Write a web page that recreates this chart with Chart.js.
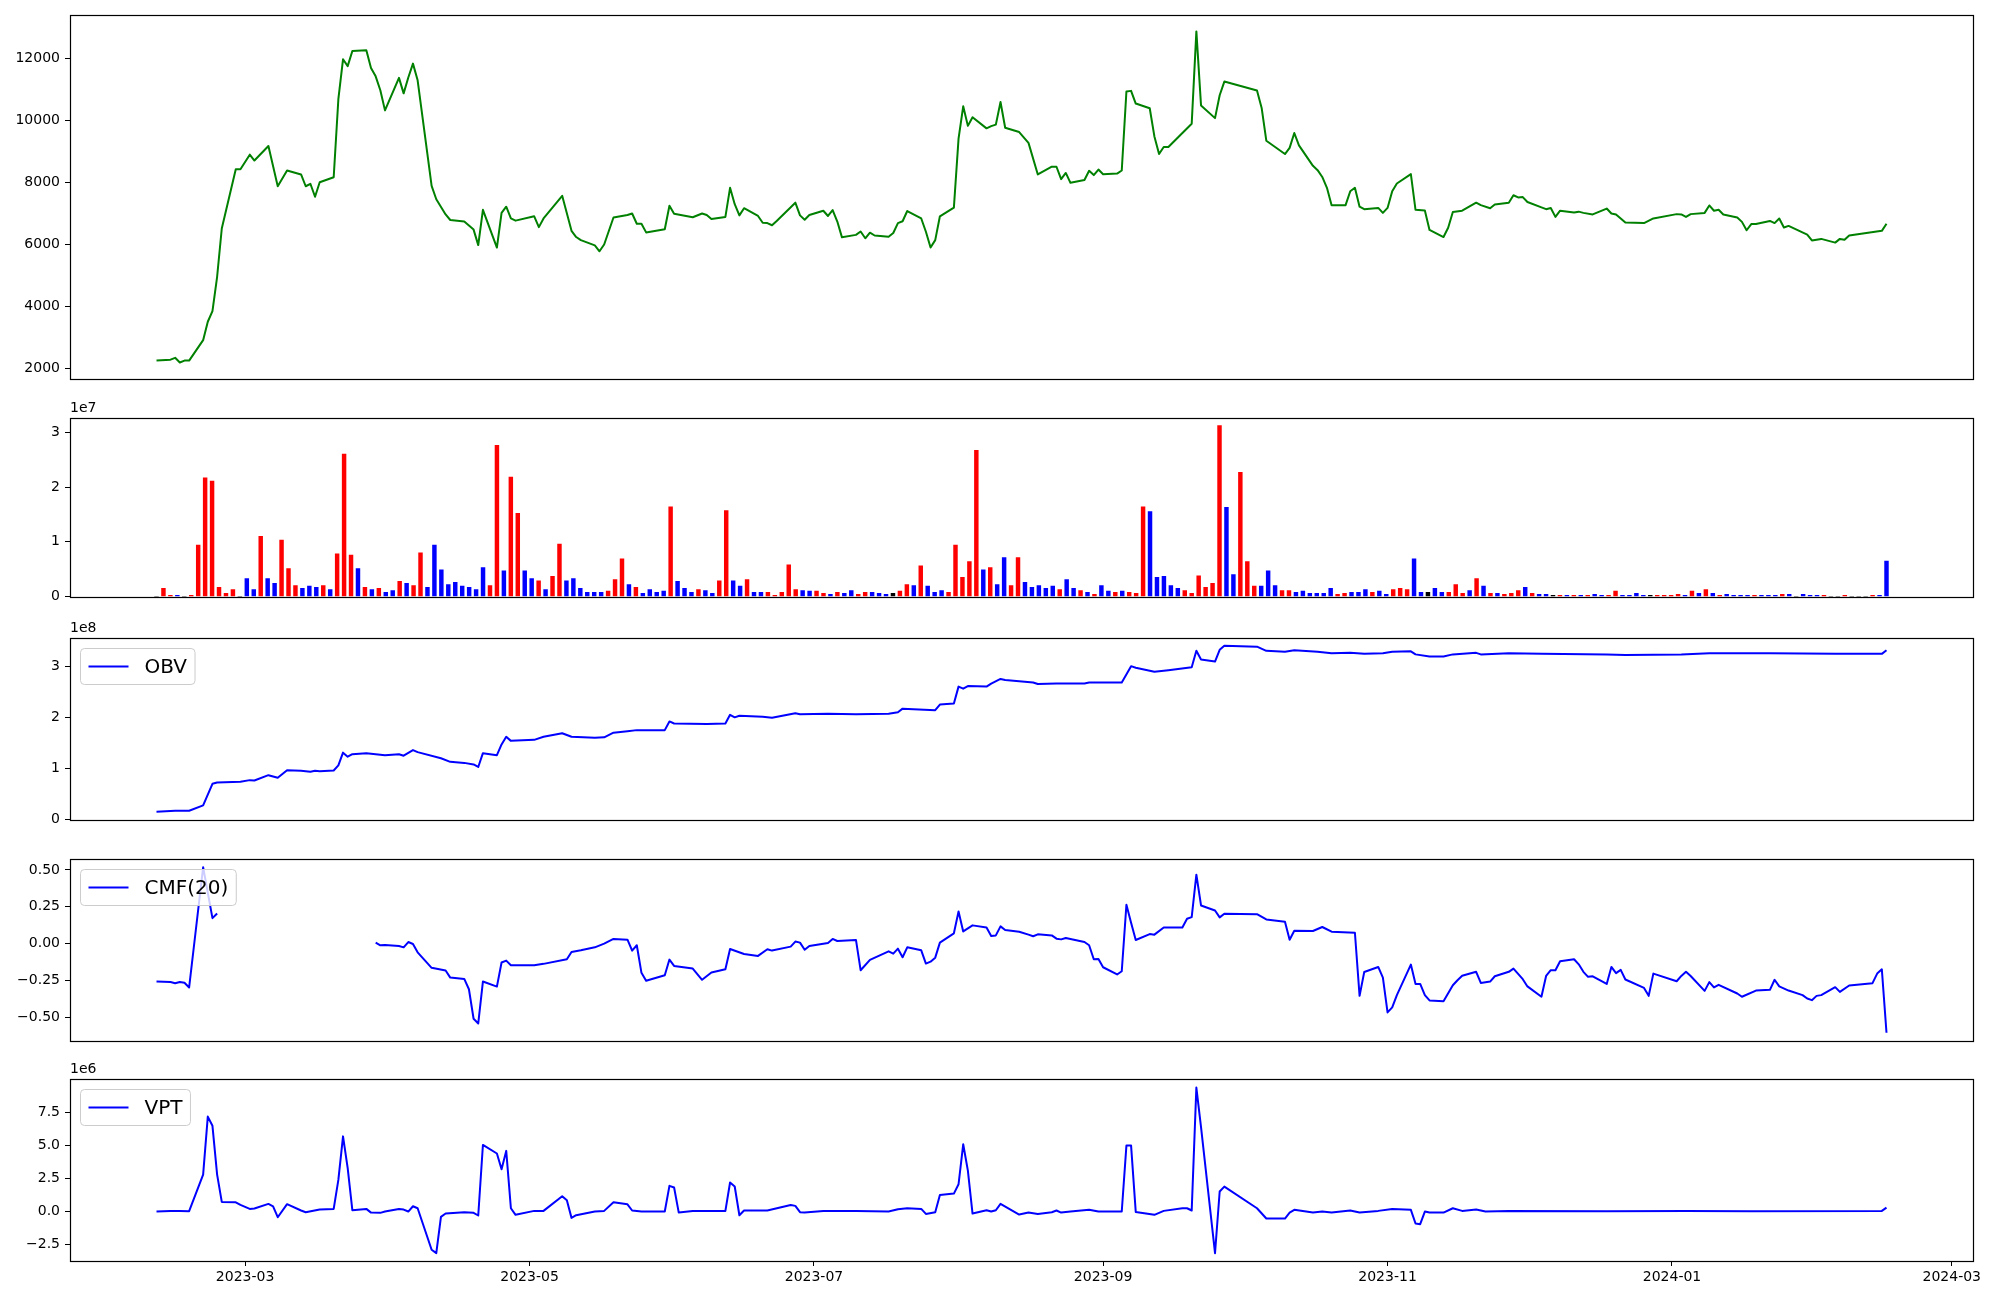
<!DOCTYPE html>
<html>
<head>
<meta charset="utf-8">
<script src="https://cdn.jsdelivr.net/npm/chart.js@4.4.0/dist/chart.umd.min.js"></script>
<style>
  html, body { margin: 0; padding: 0; background: #fff; }
  #fig { position: relative; width: 2000px; height: 1300px; background: #fff; }
  #fig canvas { position: absolute; left: 0; }
</style>
</head>
<body>
<div id="fig">
  <canvas id="pricePanel"  width="2000" height="400" style="top:0px"></canvas>
  <canvas id="volumePanel" width="2000" height="210" style="top:400px"></canvas>
  <canvas id="obvPanel"    width="2000" height="220" style="top:620px"></canvas>
  <canvas id="cmfPanel"    width="2000" height="215" style="top:840px"></canvas>
  <canvas id="vptPanel"    width="2000" height="240" style="top:1060px"></canvas>
</div>
<script>
'use strict';

/* ── trading days (month -> day numbers) ── */
const tradeDays = {
  '2023-02': [10,13,14,15,16,17,20,21,22,23,24,27,28],
  '2023-03': [2,3,6,7,8,9,10,13,14,15,16,17,20,21,22,23,24,27,28,29,30,31],
  '2023-04': [3,4,5,6,7,10,11,12,13,14,17,18,19,20,21,24,25,26,27,28],
  '2023-05': [2,3,4,8,9,10,11,12,15,16,17,18,19,22,23,24,25,26,30,31],
  '2023-06': [1,2,5,7,8,9,12,13,14,15,16,19,20,21,22,23,26,27,28,29,30],
  '2023-07': [3,4,5,6,7,10,11,12,13,14,17,18,19,20,21,24,25,26,27,28,31],
  '2023-08': [1,2,3,4,7,8,9,10,11,14,16,17,18,21,22,23,24,25,28,29,30,31],
  '2023-09': [1,4,5,6,7,8,11,12,13,14,15,18,19,20,21,22,25,26,27],
  '2023-10': [4,5,6,10,11,12,13,16,17,18,19,20,23,24,25,26,27,30,31],
  '2023-11': [1,2,3,6,7,8,9,10,13,14,15,16,17,20,21,22,23,24,27,28,29,30],
  '2023-12': [1,4,5,6,7,8,11,12,13,14,15,18,19,20,21,22,26,27,28],
  '2024-01': [2,3,4,5,8,9,10,11,12,15,16,17,18,19,22,23,24,25,26,29,30,31],
  '2024-02': [1,2,5,6,7,8,13,14,15,16],
};

const monthTicks = ['2023-03','2023-05','2023-07','2023-09','2023-11','2024-01','2024-03'];

/* ── close price (trading-day index -> value) ── */
const priceIdx = [
  0,1,2,3,4,5,6,7,8,9,
  10,11,12,13,14,15,17,19,20,21,
  22,23,24,25,26,27,28,29,30,31,
  32,33,34,35,36,37,38,39,40,41,
  43,44,45,47,48,49,50,51,52,53,
  54,55,56,57,58,60,61,62,63,64,
  65,67,68,69,70,71,72,73,74,75,
  77,78,79,80,81,82,83,84,85,86,
  87,88,89,90,92,93,94,95,96,97,
  98,99,100,101,102,103,104,105,106,107,
  108,109,110,111,112,113,114,115,116,117,
  118,119,120,121,122,123,124,125,126,127,
  129,130,131,132,133,134,135,136,137,138,
  139,140,141,142,143,144,145,146,147,148,
  149,152,153,154,155,156,157,158,159,160,
  161,162,163,164,165,166,167,168,169,170,
  171,172,173,174,175,176,177,178,179,180,
  181,183,184,185,186,187,189,190,191,193,
  194,195,196,197,198,199,200,201,202,203,
  204,205,206,207,209,210,211,212,214,215,
  217,218,219,220,221,222,223,224,225,226,
  227,228,229,230,231,232,233,234,235,236,
  238,239,241,242,243,244,245,248,249
];
const priceVal = [
  2250,2280,2340,2190,2250,2250,2910,3505,3850,4957,
  6516,8430,8430,8900,8710,9180,7880,8390,8260,7880,
  7960,7540,8010,8170,10690,11980,11760,12250,12270,11700,
  11430,10980,10330,11380,10880,11390,11840,11300,7890,7460,
  6970,6790,6740,6480,5980,7120,5900,7020,7220,6840,
  6770,6910,6560,6840,7570,6440,6240,6140,5970,5780,
  6000,6870,6950,7000,6670,6670,6390,6490,7250,6990,
  6880,7000,6950,6820,6890,7830,7300,6940,7170,6920,
  6700,6690,6620,6760,7350,6940,6800,6950,7090,6920,
  7110,6740,6230,6310,6420,6200,6380,6290,6250,6370,
  6690,6750,7080,6840,6410,5900,6140,6910,7190,9420,
  10460,9830,10110,9750,9820,9870,10600,9770,9630,9280,
  8260,8510,8510,8110,8310,7990,8080,8380,8240,8420,
  8270,8290,8390,10940,10960,10550,10400,9490,8920,9150,
  9150,9900,12880,10490,10080,10820,11260,10970,10410,9350,
  8920,9120,9600,9200,8540,8400,8180,7830,7270,7270,
  7720,7830,7220,7140,7180,7020,7180,7720,7970,8270,
  7120,7100,6470,6240,6540,7050,7090,7350,7270,7170,
  7290,7350,7590,7520,7530,7370,7200,7140,7180,6890,
  7090,7030,7060,7020,6970,7160,7000,6970,6710,6690,
  6840,6980,6970,6890,6980,7020,7260,7090,7120,6970,
  6870,6730,6460,6660,6660,6760,6690,6840,6550,6600,
  6320,6130,6180,6060,6180,6150,6290,6440,6670
];

/* ── volume, millions, one bar per row; candle direction 1 up, -1 down, 0 flat ── */
const volumeM = [
  0,1.5,0.25,0.25,0,0.25,9.4,21.7,21.1,1.7,
  0.6,1.3,0,3.3,1.3,11.0,3.3,2.4,10.3,5.1,
  2.0,1.5,1.9,1.7,2.0,1.3,7.8,26.0,7.6,5.1,
  1.7,1.3,1.5,0.8,1.1,2.8,2.4,2.0,8.0,1.7,
  9.4,4.9,2.2,2.6,1.9,1.7,1.3,5.3,2.0,27.6,
  4.7,21.8,15.2,4.7,3.3,2.9,1.3,3.7,9.6,2.9,
  3.3,1.5,0.8,0.8,0.8,1.0,3.1,6.9,2.2,1.7,
  0.6,1.3,0.8,1.0,16.4,2.8,1.5,0.8,1.3,1.1,
  0.6,2.9,15.7,2.9,1.9,3.1,0.8,0.8,0.8,0.25,
  0.8,5.8,1.3,1.1,1.0,1.0,0.6,0.4,0.8,0.6,
  1.1,0.4,0.8,0.8,0.6,0.4,0.6,1.0,2.2,2.0,
  5.6,1.9,0.8,1.1,0.8,9.4,3.5,6.4,26.7,4.9,
  5.3,2.2,7.1,2.0,7.1,2.6,1.7,2.0,1.5,1.9,
  1.3,3.1,1.5,1.1,0.8,0.4,2.0,1.0,0.8,1.0,
  0.8,0.6,16.4,15.5,3.5,3.7,2.0,1.5,1.1,0.6,
  3.8,1.7,2.4,31.2,16.3,4.0,22.7,6.4,1.9,1.9,
  4.7,2.0,1.1,1.1,0.8,1.0,0.6,0.6,0.6,1.5,
  0.4,0.6,0.8,0.8,1.3,0.8,1.0,0.4,1.3,1.5,
  1.3,6.9,0.8,0.8,1.5,0.8,0.8,2.2,0.6,1.1,
  3.3,1.9,0.6,0.6,0.4,0.6,1.1,1.7,0.6,0.4,
  0.4,0.25,0.25,0.25,0.25,0.25,0.25,0.4,0.25,0.25,
  1.0,0.25,0.25,0.6,0.25,0.25,0.25,0.25,0.25,0.4,
  0.25,1.0,0.6,1.3,0.6,0.25,0.4,0.25,0.25,0.25,
  0.25,0.25,0.25,0.25,0.4,0.4,0,0.4,0.25,0.25,
  0.25,0,0,0.25,0,0,0,0.25,0.25,6.5
];
const candleDir = [
  0,1,1,-1,0,1,1,1,1,1,
  1,1,0,-1,-1,1,-1,-1,1,1,
  1,-1,-1,-1,1,-1,1,1,1,-1,
  1,-1,1,-1,-1,1,-1,1,1,-1,
  -1,-1,-1,-1,-1,-1,-1,-1,1,1,
  -1,1,1,-1,-1,1,-1,1,1,-1,
  -1,-1,-1,-1,-1,1,1,1,-1,1,
  -1,-1,-1,-1,1,-1,-1,-1,1,-1,
  -1,1,1,-1,-1,1,-1,-1,1,1,
  1,1,1,-1,-1,1,1,-1,1,-1,
  -1,1,1,-1,-1,-1,0,1,1,-1,
  1,-1,-1,-1,1,1,1,1,1,-1,
  1,-1,-1,1,1,-1,-1,-1,-1,-1,
  1,-1,-1,1,-1,1,-1,-1,1,-1,
  1,1,1,-1,-1,-1,-1,-1,1,1,
  1,1,1,1,-1,-1,1,1,1,-1,
  -1,-1,1,1,-1,-1,-1,-1,-1,-1,
  1,1,-1,-1,-1,1,-1,-1,1,1,
  1,-1,-1,0,-1,-1,1,1,1,-1,
  1,-1,1,-1,1,1,1,-1,1,-1,
  -1,0,1,-1,1,-1,1,-1,-1,1,
  1,-1,-1,-1,-1,0,1,1,1,1,
  -1,1,-1,1,-1,1,-1,-1,-1,-1,
  1,-1,-1,-1,1,-1,0,-1,-1,-1,
  1,0,0,1,0,0,0,1,-1,-1
];

/* ── OBV, millions ── */
const obvIdx = [
  0,2,5,6,8,9,12,13,14,15,
  17,19,20,22,23,24,25,26,27,28,
  29,30,34,35,36,38,39,42,44,45,
  47,48,49,50,51,52,53,55,57,58,
  60,63,65,67,68,70,73,74,75,79,
  81,82,83,84,87,89,92,93,97,101,
  106,108,109,114,115,116,117,118,119,121,
  122,124,125,128,129,131,135,136,141,143,
  144,146,149,152,153,154,155,156,157,158,
  160,161,163,166,169,171,174,176,178,180,
  181,184,185,187,190,191,195,200,210,214,
  219,223,232,242,248,249
];
const obvM = [
  15.6,17.5,17.5,27.9,70.1,72.7,74.0,77.3,76.6,87.0,
  81.8,96.8,95.5,93.5,95.5,94.8,96.1,106,131,123,
  128,130,126,128,125,136,132,120,113,111,
  108,103,130,126,147,162,154,156,162,169,
  162,160,161,170,173,175,175,192,188,187,
  188,205,200,203,201,199,208,206,207,206,
  207,210,217,214,225,227,260,256,261,260,
  266,275,273,268,265,266,266,268,268,300,
  297,289,292,298,330,313,309,332,340,338,
  330,328,331,328,325,326,324,325,328,329,
  323,319,319,323,326,323,325,324,323,322,
  323,325,325,324,324,331
];

/* ── CMF(20) ── */
const cmfIdx = [
  0,1,2,3,4,5,6,8,9,20,
  32,33,34,35,36,37,38,39,40,43,
  44,45,46,47,48,49,50,51,52,53,
  55,57,59,60,62,63,65,67,68,69,
  70,71,72,73,74,75,77,78,80,81,
  82,85,86,88,89,91,92,93,94,95,
  97,98,99,101,102,104,106,107,108,109,
  110,111,112,113,114,115,116,117,118,120,
  121,122,123,124,125,126,127,128,129,130,
  131,132,133,135,136,137,138,139,140,141,
  142,143,144,145,146,148,150,151,152,153,
  154,155,156,157,158,160,161,162,163,165,
  167,169,172,173,174,175,176,177,178,179,
  180,181,182,183,184,185,187,188,189,190,
  191,193,194,195,196,198,199,200,201,202,
  203,204,205,206,207,208,209,210,211,212,
  213,214,215,216,217,218,219,220,221,222,
  223,224,225,227,228,231,232,233,234,236,
  237,238,239,240,241,242,243,245,246,247,
  248,249
];
const cmfVal = [
  -0.257,-0.26,-0.268,-0.26,-0.265,-0.297,0.518,0.173,0.205,null,
  0.007,-0.011,-0.009,-0.016,-0.025,0.011,-0.002,-0.059,-0.164,-0.182,
  -0.23,-0.239,-0.309,-0.509,-0.541,-0.257,-0.291,-0.128,-0.115,-0.146,
  -0.146,-0.137,-0.106,-0.056,-0.045,-0.025,0.0,0.032,0.027,-0.047,
  -0.011,-0.198,-0.252,-0.214,-0.108,-0.151,-0.169,-0.245,-0.196,-0.173,
  -0.036,-0.07,-0.083,-0.038,-0.047,-0.02,0.014,0.007,-0.041,-0.016,
  0.005,0.032,0.018,0.025,-0.18,-0.11,-0.052,-0.068,-0.034,-0.092,
  -0.025,-0.045,-0.135,-0.122,-0.095,0.007,0.07,0.218,0.083,0.124,
  0.11,0.052,0.056,0.117,0.092,0.081,0.061,0.05,0.063,0.056,
  0.034,0.029,0.038,0.011,-0.011,-0.106,-0.104,-0.16,-0.209,-0.187,
  0.263,0.142,0.025,0.065,0.061,0.11,0.11,0.169,0.18,0.468,
  0.259,0.225,0.178,0.203,0.2,0.164,0.149,0.027,0.088,0.086,
  0.113,0.081,0.074,-0.354,-0.192,-0.158,-0.23,-0.466,-0.432,-0.349,
  -0.142,-0.273,-0.273,-0.349,-0.385,-0.39,-0.282,-0.248,-0.218,-0.191,
  -0.266,-0.257,-0.221,-0.191,-0.169,-0.241,-0.29,-0.36,-0.219,-0.18,
  -0.18,-0.119,-0.106,-0.14,-0.191,-0.225,-0.221,-0.273,-0.158,-0.2,
  -0.178,-0.243,-0.3,-0.354,-0.203,-0.255,-0.219,-0.191,-0.219,-0.32,
  -0.261,-0.297,-0.279,-0.338,-0.36,-0.318,-0.313,-0.245,-0.29,-0.318,
  -0.349,-0.372,-0.383,-0.354,-0.349,-0.295,-0.327,-0.284,-0.268,-0.203,
  -0.174,-0.604
];

/* ── VPT, millions ── */
const vptIdx = [
  0,1,3,5,6,7,8,9,10,11,
  12,13,14,15,16,17,19,20,21,24,
  25,26,27,28,29,30,31,33,34,35,
  36,37,38,39,40,41,42,43,45,47,
  48,49,50,51,52,53,54,55,57,58,
  59,60,61,63,65,67,68,69,71,73,
  74,75,76,77,78,81,82,83,84,85,
  86,88,91,92,93,94,96,101,106,108,
  110,111,112,114,115,116,117,118,119,120,
  121,122,123,124,126,127,129,130,131,132,
  134,136,138,141,142,143,144,146,148,150,
  151,152,153,154,155,156,157,158,160,161,
  162,163,165,167,169,171,173,175,178,180,
  181,182,183,184,185,187,189,190,192,195,
  210,220,230,248,249
];
const vptM = [
  0,0.05,0.05,0.03,2.8,7.2,6.5,2.8,0.73,0.7,
  0.5,0.2,0.23,0.58,0.4,-0.43,0.56,0.08,-0.05,0.15,
  0.2,2.4,5.7,3.3,0.1,0.2,-0.08,-0.1,0,0.2,
  0.15,0,0.4,0.25,-2.9,-3.15,-0.4,-0.15,-0.05,-0.1,
  -0.3,5.05,4.4,3.2,4.6,0.25,-0.25,0.05,0.05,1.16,
  0.85,-0.48,-0.28,0,0.05,0.7,0.55,0.08,0,0,
  1.95,1.82,-0.08,0.05,0.05,0.05,2.2,1.9,-0.28,0.08,
  0.08,0.08,0.5,0.43,-0.05,-0.08,0.05,0.05,0,0.18,
  0.25,0.2,-0.18,-0.05,1.26,1.36,2.07,5.1,3.1,-0.15,
  0.1,0,0.1,0.58,-0.23,-0.08,-0.18,-0.05,0.08,-0.08,
  0,0.13,0,0,5,5,-0.03,-0.25,0.05,0.25,
  0.25,0.08,9.4,6.4,-3.16,1.52,1.89,0.25,-0.53,-0.53,
  -0.08,0.13,-0.08,0,-0.08,0.08,-0.08,0.05,0.2,0.13,
  -0.91,-0.96,0,-0.08,-0.08,0.25,0.05,0.15,0,0.05,
  0.03,0.05,0.03,0.05,0.3
];

/* ── axis ticks ── */
const priceTicks  = [2000, 4000, 6000, 8000, 10000, 12000];
const volumeTicks = [0, 1e7, 2e7, 3e7];
const obvTicks    = [0, 1e8, 2e8, 3e8];
const cmfTicks    = [-0.5, -0.25, 0, 0.25, 0.5];
const vptTicks    = [-2.5e6, 0, 2.5e6, 5e6, 7.5e6];

/* ── helpers ── */
const dates = [];
for (const [ym, days] of Object.entries(tradeDays)) {
  days.forEach(d => dates.push(`${ym}-${String(d).padStart(2, '0')}`));
}
function toMs(s) {
  const [y, m, d] = s.split('-').map(Number);
  return Date.UTC(y, m - 1, d || 1);
}
const xs = dates.map(toMs);
const span = xs[xs.length - 1] - xs[0];
const X_MIN = xs[0] - 0.05 * span;
const X_MAX = xs[xs.length - 1] + 0.05 * span;

// the source figure spreads the volume bars evenly over the date range
const barXs = volumeM.map((_, i) => xs[0] + i * span / (volumeM.length - 1));

const minus = s => s.replace('-', '\u2212');
const pts = (idx, vals, k = 1) =>
  idx.map((i, j) => ({ x: xs[i], y: vals[j] === null ? null : vals[j] * k }));

const FONT = "'DejaVu Sans', sans-serif";
Chart.defaults.font.family = FONT;
Chart.defaults.color = '#000';

/* frame, legend box and offset text, drawn like matplotlib */
const framePlugin = {
  id: 'frame',
  afterDatasetsDraw(chart, args, opts) {
    const { ctx, chartArea: a } = chart;
    ctx.save();
    ctx.strokeStyle = '#000';
    ctx.lineWidth = 1.2;
    ctx.strokeRect(Math.round(a.left) + 0.5, Math.round(a.top) + 0.5,
      Math.round(a.right - a.left), Math.round(a.bottom - a.top));

    if (opts.offset) {
      ctx.font = `14px ${FONT}`;
      ctx.fillStyle = '#000';
      ctx.textAlign = 'left';
      ctx.textBaseline = 'bottom';
      ctx.fillText(opts.offset, a.left, a.top - 3);
    }

    if (opts.legend) {
      const ds = chart.data.datasets[0];
      ctx.font = `20px ${FONT}`;
      const tw = ctx.measureText(ds.label).width;
      const x0 = Math.round(a.left) + 10.5, y0 = Math.round(a.top) + 10.5;
      const w = 8 + 40 + 16 + tw + 8, h = 36;
      ctx.beginPath();
      if (ctx.roundRect) ctx.roundRect(x0, y0, w, h, 4); else ctx.rect(x0, y0, w, h);
      ctx.fillStyle = 'rgba(255,255,255,0.8)';
      ctx.fill();
      ctx.strokeStyle = '#cccccc';
      ctx.lineWidth = 1;
      ctx.stroke();
      ctx.beginPath();
      ctx.moveTo(x0 + 8, y0 + h / 2);
      ctx.lineTo(x0 + 48, y0 + h / 2);
      ctx.strokeStyle = ds.borderColor;
      ctx.lineWidth = 2;
      ctx.stroke();
      ctx.fillStyle = '#000';
      ctx.textAlign = 'left';
      ctx.textBaseline = 'middle';
      ctx.fillText(ds.label, x0 + 64, y0 + h / 2 + 1);
    }
    ctx.restore();
  },
};

function yAxis(min, max, tickVals, fmt) {
  return {
    type: 'linear',
    min, max,
    afterBuildTicks: s => { s.ticks = tickVals.map(v => ({ value: v })); },
    afterFit: s => { s.width = 70; },
    ticks: { callback: fmt, color: '#000', font: { size: 14, family: FONT }, padding: 5 },
    grid: { drawOnChartArea: false, drawTicks: true, tickLength: 5, color: '#000', tickColor: '#000' },
    border: { display: false },
  };
}

const xHidden = { type: 'linear', min: X_MIN, max: X_MAX, display: false, offset: false };
const xBottom = {
  type: 'linear', min: X_MIN, max: X_MAX, offset: false,
  afterBuildTicks: s => { s.ticks = monthTicks.map(m => ({ value: toMs(m) })); },
  afterFit: s => { s.height = 39; },
  ticks: {
    autoSkip: false, maxRotation: 0, padding: 3, color: '#000',
    font: { size: 14, family: FONT },
    callback: v => {
      const d = new Date(v);
      return `${d.getUTCFullYear()}-${String(d.getUTCMonth() + 1).padStart(2, '0')}`;
    },
  },
  grid: { drawOnChartArea: false, drawTicks: true, tickLength: 5, color: '#000', tickColor: '#000', offset: false },
  border: { display: false },
};

function panel(id, cfg) {
  return new Chart(document.getElementById(id), {
    type: cfg.type,
    data: { datasets: cfg.datasets },
    options: {
      responsive: false,
      animation: false,
      devicePixelRatio: 1,
      events: [],
      layout: { padding: { top: cfg.padTop, bottom: cfg.padBottom, left: 0, right: 27 } },
      scales: { x: cfg.bottom ? xBottom : xHidden, y: cfg.y },
      plugins: {
        legend: { display: false },
        tooltip: { enabled: false },
        frame: { legend: !!cfg.legend, offset: cfg.offset || '' },
      },
    },
    plugins: [framePlugin],
  });
}

const lineStyle = color => ({
  borderColor: color, borderWidth: 2, pointRadius: 0, tension: 0,
  borderJoinStyle: 'round', spanGaps: false, fill: false,
});

/* ── price ── */
panel('pricePanel', {
  type: 'line', padTop: 15, padBottom: 21,
  datasets: [{ label: 'Close', data: pts(priceIdx, priceVal), ...lineStyle('#008000') }],
  y: yAxis(1656, 13410, priceTicks, v => String(v)),
});

/* ── volume ── */
const DIR_COLORS = { '1': '#ff0000', '-1': '#0000ff', '0': '#000000' };
panel('volumePanel', {
  type: 'bar', padTop: 18, padBottom: 11, offset: '1e7',
  datasets: [{
    label: 'Volume',
    data: barXs.map((x, i) => ({ x, y: volumeM[i] * 1e6 })),
    backgroundColor: candleDir.map(d => DIR_COLORS[String(d)]),
    borderWidth: 0,
    barThickness: 3.8,
  }],
  y: yAxis(0, 3.26e7, volumeTicks, v => String(v / 1e7)),
});

/* ── OBV ── */
panel('obvPanel', {
  type: 'line', padTop: 18, padBottom: 20, offset: '1e8', legend: true,
  datasets: [{ label: 'OBV', data: pts(obvIdx, obvM, 1e6), ...lineStyle('#0000ff') }],
  y: yAxis(-6e5, 3.55e8, obvTicks, v => String(v / 1e8)),
});

/* ── CMF ── */
panel('cmfPanel', {
  type: 'line', padTop: 19, padBottom: 14, legend: true,
  datasets: [{ label: 'CMF(20)', data: pts(cmfIdx, cmfVal), ...lineStyle('#0000ff') }],
  y: yAxis(-0.66, 0.574, cmfTicks, v => minus(v.toFixed(2))),
});

/* ── VPT ── */
panel('vptPanel', {
  type: 'line', padTop: 19, padBottom: 0, offset: '1e6', legend: true, bottom: true,
  datasets: [{ label: 'VPT', data: pts(vptIdx, vptM, 1e6), ...lineStyle('#0000ff') }],
  y: yAxis(-3.75e6, 10.05e6, vptTicks, v => minus((v / 1e6).toFixed(1))),
});
</script>
</body>
</html>
